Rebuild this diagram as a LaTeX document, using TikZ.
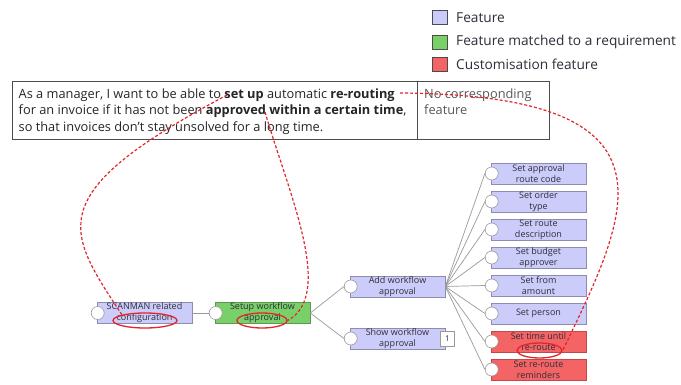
\documentclass[tikz,border=0pt]{standalone}
\usepackage{fontspec}
\setmainfont{Open Sans}
\usetikzlibrary{shapes.geometric}
\definecolor{featfill}{HTML}{CCCCFA}
\definecolor{featdraw}{HTML}{8C8CB0}
\definecolor{matchfill}{HTML}{7AD068}
\definecolor{matchdraw}{HTML}{5A9A50}
\definecolor{custfill}{HTML}{F46464}
\definecolor{custdraw}{HTML}{C04848}
\definecolor{annored}{HTML}{E2262E}
\definecolor{txt}{HTML}{2E2E3A}
\definecolor{wire}{HTML}{9A9A9A}
\tikzset{
  feat/.style={draw=featdraw, fill=featfill, minimum width=95pt, minimum height=21pt,
    inner sep=0pt, align=center, text=txt, font=\fontsize{9}{11.2}\selectfont, line width=0.6pt},
  matched/.style={feat, draw=matchdraw, fill=matchfill},
  cust/.style={feat, draw=custdraw, fill=custfill},
  port/.style={circle, draw=gray!80, fill=white, minimum size=13pt, inner sep=0pt, line width=0.6pt},
  wireline/.style={draw=wire, line width=0.7pt},
  anno/.style={draw=annored, line width=1.2pt, dash pattern=on 3pt off 2pt},
  ring/.style={ellipse, draw=annored, line width=1.3pt, inner sep=0pt},
  legbox/.style={draw=gray!60!black, minimum width=15pt, minimum height=14pt, inner sep=0pt, line width=0.8pt},
  legtxt/.style={anchor=west, text=txt, font=\fontsize{13.7}{14}\selectfont, inner sep=0pt},
  celltxt/.style={anchor=base west, inner sep=0pt, text=black!85, font=\fontsize{12.8}{14}\selectfont},
}
\begin{document}
\begin{tikzpicture}[x=1pt,y=-1pt]
\useasboundingbox (0,0) rectangle (681,385);
\fill[white] (0,0) rectangle (681,385);

% legend
\node[legbox, fill=featfill] (l1) at (440,17.5) {};
\node[legbox, fill=matchfill] (l2) at (440,42) {};
\node[legbox, fill=custfill] (l3) at (440,64.5) {};
\node[legtxt] (lt1) at (456,18) {Feature};
\node[legtxt] (lt2) at (456,42) {Feature matched to a requirement};
\node[legtxt] (lt3) at (456,64.5) {Customisation feature};

% table
\draw[gray!60!black, line width=1pt] (12.5,81.5) rectangle (549,140);
\draw[gray!60!black, line width=1pt] (417,81.5) -- (417,140);
\node[celltxt] (r1) at (18.5,98.3) {As a manager, I want to be able to \textbf{set up} automatic \textbf{re-routing}};
\node[celltxt] (r2) at (18.5,115) {for an invoice if it has not been \textbf{approved within a certain time},};
\node[celltxt] (r3) at (18.5,131.7) {so that invoices don’t stay unsolved for a long time.};
\node[celltxt, text=black!65] (c1) at (424,98.3) {No corresponding};
\node[celltxt, text=black!65] (c2) at (424,115) {feature};

% feature tree nodes
\node[feat] (scan) at (144.5,313) {SCANMAN related\\configuration};
\node[matched] (setup) at (262.5,313) {Setup workflow\\approval};
\node[feat] (add) at (397.5,286.5) {Add workflow\\approval};
\node[feat] (show) at (397.5,338.5) {Show workflow\\approval};
\node[draw=gray!80, fill=white, minimum width=14pt, minimum height=15pt, inner sep=0pt,
  font=\fontsize{8}{9}\selectfont, text=txt] (badge) at (447.5,338.5) {1};

\node[feat] (f1) at (538.5,173.5) {Set approval\\route code};
\node[feat] (f2) at (538.5,201.5) {Set order\\type};
\node[feat] (f3) at (538.5,229.5) {Set route\\description};
\node[feat] (f4) at (538.5,257.5) {Set budget\\approver};
\node[feat] (f5) at (538.5,285.5) {Set from\\amount};
\node[feat] (f6) at (538.5,313.5) {Set person};
\node[cust] (f7) at (538.5,341.5) {Set time until\\re-route};
\node[cust] (f8) at (538.5,369.5) {Set re-route\\reminders};

% ports
\foreach \n in {scan,setup,add,show,f1,f2,f3,f4,f5,f6,f7,f8}{
  \node[port] (p\n) at ([xshift=1pt]\n.west) {};
}

% wires
\draw[wireline] (scan.east) -- (psetup.west);
\draw[wireline] (setup.east) -- (padd.west);
\draw[wireline] (setup.east) -- (pshow.west);
\foreach \n in {f1,f2,f3,f4,f5,f6,f7,f8}{
  \draw[wireline] (add.east) -- (p\n.west);
}

% annotation rings
\node[ring, minimum width=64pt, minimum height=15pt] (e1) at (145,320.5) {};
\node[ring, minimum width=50pt, minimum height=15pt] (e2) at (262,320.5) {};
\node[ring, minimum width=45pt, minimum height=15pt] (e3) at (539.5,350.5) {};

% annotation anchors in text
\coordinate (su) at (227,95);
\coordinate (ap) at (265,112);
\coordinate (rr) at (400,93);

\draw[anno] (su) .. controls (41,194) and (65,229) .. (e1.north west);
\draw[anno] (ap) .. controls (289,194) and (335,295) .. (e2.east);
\draw[anno] (rr) .. controls (690,95) and (629.5,212) .. (e3.east);
\end{tikzpicture}
\end{document}
